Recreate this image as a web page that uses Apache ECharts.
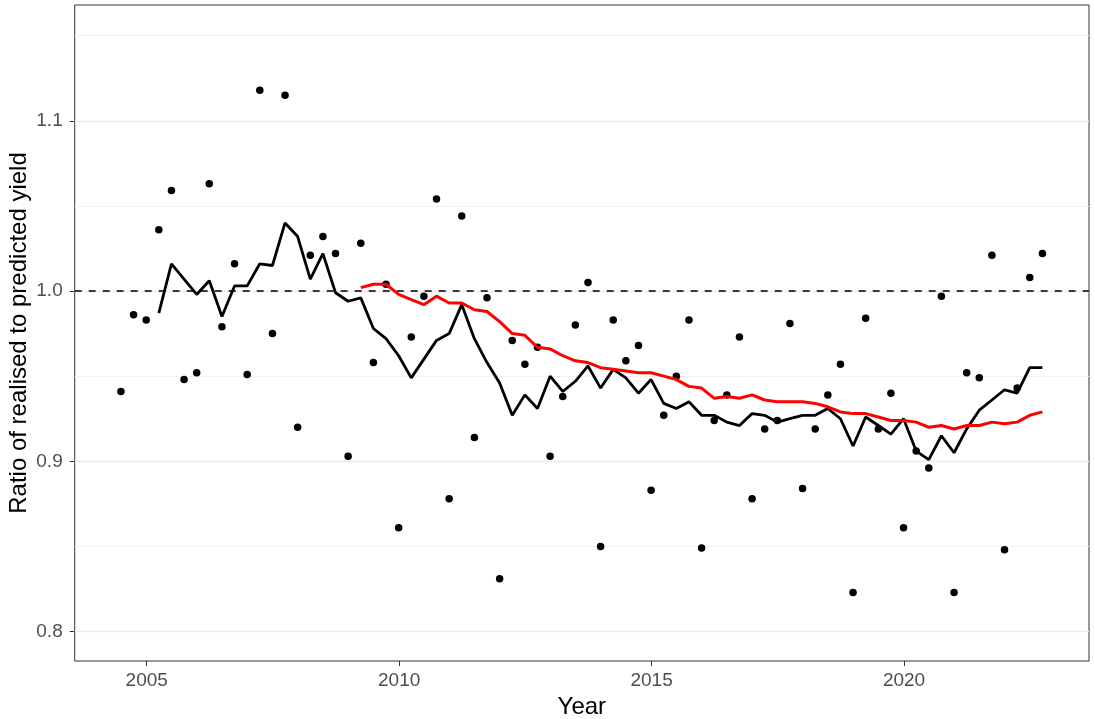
<!DOCTYPE html>
<html>
<head>
<meta charset="utf-8">
<script src="https://cdn.jsdelivr.net/npm/echarts@6/dist/echarts.min.js"></script>
<style>
  html, body { margin: 0; padding: 0; background: #ffffff; }
  #chart { width: 1095px; height: 719px; }
</style>
</head>
<body>
<div id="chart"></div>
<script>
// Quarterly observations, 2004 Q2 to 2022 Q3
const quarters = [
  '2004Q2','2004Q3','2004Q4',
  '2005Q1','2005Q2','2005Q3','2005Q4','2006Q1','2006Q2','2006Q3','2006Q4',
  '2007Q1','2007Q2','2007Q3','2007Q4','2008Q1','2008Q2','2008Q3','2008Q4',
  '2009Q1','2009Q2','2009Q3','2009Q4','2010Q1','2010Q2','2010Q3','2010Q4',
  '2011Q1','2011Q2','2011Q3','2011Q4','2012Q1','2012Q2','2012Q3','2012Q4',
  '2013Q1','2013Q2','2013Q3','2013Q4','2014Q1','2014Q2','2014Q3','2014Q4',
  '2015Q1','2015Q2','2015Q3','2015Q4','2016Q1','2016Q2','2016Q3','2016Q4',
  '2017Q1','2017Q2','2017Q3','2017Q4','2018Q1','2018Q2','2018Q3','2018Q4',
  '2019Q1','2019Q2','2019Q3','2019Q4','2020Q1','2020Q2','2020Q3','2020Q4',
  '2021Q1','2021Q2','2021Q3','2021Q4','2022Q1','2022Q2','2022Q3'
];

// Ratio of realised to predicted yield, one value per quarter
const ratio = [
  0.941, 0.986, 0.983, 1.036, 1.059, 0.948, 0.952, 1.063, 0.979, 1.016,
  0.951, 1.118, 0.975, 1.115, 0.920, 1.021, 1.032, 1.022, 0.903, 1.028,
  0.958, 1.004, 0.861, 0.973, 0.997, 1.054, 0.878, 1.044, 0.914, 0.996,
  0.831, 0.971, 0.957, 0.967, 0.903, 0.938, 0.980, 1.005, 0.850, 0.983,
  0.959, 0.968, 0.883, 0.927, 0.950, 0.983, 0.849, 0.924, 0.939, 0.973,
  0.878, 0.919, 0.924, 0.981, 0.884, 0.919, 0.939, 0.957, 0.823, 0.984,
  0.919, 0.940, 0.861, 0.906, 0.896, 0.997, 0.823, 0.952, 0.949, 1.021,
  0.848, 0.943, 1.008, 1.022
];

// One-year (4-quarter) rolling mean, from 2005 Q1
const rollingMean4 = [
  0.987, 1.016, 1.007, 0.998, 1.006, 0.985, 1.003, 1.003, 1.016, 1.015,
  1.040, 1.032, 1.007, 1.022, 0.999, 0.994, 0.996, 0.978, 0.972, 0.962,
  0.949, 0.960, 0.971, 0.975, 0.992, 0.972, 0.958, 0.946, 0.927, 0.939,
  0.931, 0.950, 0.941, 0.947, 0.956, 0.943, 0.954, 0.949, 0.940, 0.948,
  0.934, 0.931, 0.935, 0.927, 0.927, 0.923, 0.921, 0.928, 0.927, 0.923,
  0.925, 0.927, 0.927, 0.931, 0.925, 0.909, 0.926, 0.921, 0.916, 0.925,
  0.906, 0.901, 0.915, 0.905, 0.919, 0.930, 0.936, 0.942, 0.940, 0.955,
  0.955
];

// Five-year (20-quarter) rolling mean, from 2009 Q1
const rollingMean20 = [
  1.002, 1.004, 1.004, 0.998, 0.995, 0.992, 0.997, 0.993, 0.993, 0.989,
  0.988, 0.982, 0.975, 0.974, 0.967, 0.966, 0.962, 0.959, 0.958, 0.955,
  0.954, 0.953, 0.952, 0.952, 0.950, 0.948, 0.944, 0.943, 0.937, 0.938,
  0.937, 0.939, 0.936, 0.935, 0.935, 0.935, 0.934, 0.932, 0.929, 0.928,
  0.928, 0.926, 0.924, 0.924, 0.923, 0.920, 0.921, 0.919, 0.921, 0.921,
  0.923, 0.922, 0.923, 0.927, 0.929
];

const yearTicks = [2005, 2010, 2015, 2020];
const ratioTicks = [0.8, 0.9, 1.0, 1.1];
const ratioMinorTicks = [0.85, 0.95, 1.05, 1.15];
const referenceRatio = 1.0;

// Quarter label -> decimal year at the end of that quarter
function toYear(q) {
  const parts = q.split('Q');
  return Number(parts[0]) + Number(parts[1]) * 0.25 - 0.01;
}

function alignTo(values) {
  const offset = quarters.length - values.length;
  return values.map((v, i) => [toYear(quarters[i + offset]), v]);
}

const FONT = 'Liberation Sans, Arial, sans-serif';

const chart = echarts.init(document.getElementById('chart'), null, { renderer: 'canvas' });

chart.setOption({
  animation: false,
  backgroundColor: '#ffffff',
  grid: {
    left: 74.7, right: 6, top: 5, bottom: 58,
    outerBoundsMode: 'none',
    containLabel: false,
    show: true,
    borderColor: '#333333',
    borderWidth: 1,
    backgroundColor: 'transparent'
  },
  xAxis: {
    type: 'value',
    min: 2003.574,
    max: 2023.663,
    axisLine: { show: false },
    axisTick: {
      show: true, inside: false, length: 5, customValues: yearTicks,
      lineStyle: { color: '#333333', width: 1 }
    },
    axisLabel: {
      customValues: yearTicks,
      formatter: v => String(Math.round(v)),
      color: '#4d4d4d', fontSize: 19, fontFamily: FONT, margin: 10
    },
    splitLine: { show: false },
    name: 'Year',
    nameLocation: 'middle',
    nameGap: 34,
    nameMoveOverlap: false,
    nameTextStyle: { color: '#000000', fontSize: 24, fontFamily: FONT }
  },
  yAxis: {
    type: 'value',
    min: 0.7827,
    max: 1.168,
    axisLine: { show: false },
    axisTick: {
      show: true, inside: false, length: 5, customValues: ratioTicks,
      lineStyle: { color: '#333333', width: 1 }
    },
    axisLabel: {
      customValues: ratioTicks,
      formatter: v => v.toFixed(1),
      color: '#4d4d4d', fontSize: 19, fontFamily: FONT, margin: 12
    },
    splitLine: { show: false },
    name: 'Ratio of realised to predicted yield',
    nameLocation: 'middle',
    nameGap: 43,
    nameMoveOverlap: false,
    nameTextStyle: { color: '#000000', fontSize: 24, fontFamily: FONT }
  },
  series: [
    {
      type: 'scatter',
      name: 'ratio',
      data: quarters.map((q, i) => [toYear(q), ratio[i]]),
      symbol: 'circle',
      symbolSize: 7.5,
      itemStyle: { color: '#000000', opacity: 1 },
      z: 3,
      silent: true,
      markLine: {
        silent: true,
        symbol: 'none',
        z: 1,
        label: { show: false },
        emphasis: { disabled: true },
        data: ratioTicks.map(v => ({ yAxis: v, lineStyle: { color: '#ebebeb', width: 1.3, type: 'solid' } }))
          .concat(ratioMinorTicks.map(v => ({ yAxis: v, lineStyle: { color: '#f1f1f1', width: 1, type: 'solid' } })))
      }
    },
    {
      type: 'line',
      name: 'rolling4',
      data: alignTo(rollingMean4),
      showSymbol: false,
      symbol: 'none',
      lineStyle: { color: '#000000', width: 2.8 },
      z: 4,
      silent: true,
      markLine: {
        silent: true,
        symbol: 'none',
        z: 2,
        label: { show: false },
        emphasis: { disabled: true },
        data: [{ yAxis: referenceRatio }],
        lineStyle: { color: '#000000', width: 1.5, type: [7, 7] }
      }
    },
    {
      type: 'line',
      name: 'rolling20',
      data: alignTo(rollingMean20),
      showSymbol: false,
      symbol: 'none',
      lineStyle: { color: '#ff0000', width: 3 },
      z: 5,
      silent: true
    }
  ]
});
</script>
</body>
</html>
